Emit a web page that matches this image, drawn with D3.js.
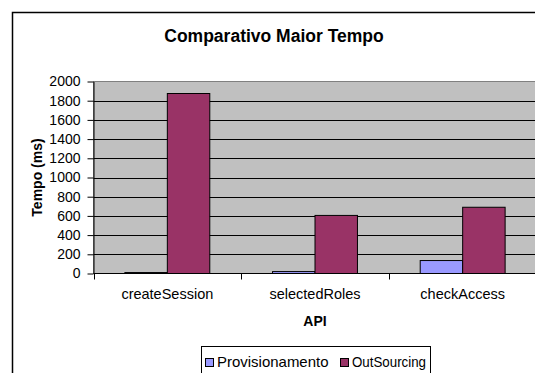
<!DOCTYPE html>
<html>
<head>
<meta charset="utf-8">
<script src="https://cdn.jsdelivr.net/npm/d3@7"></script>
<style>
  html, body { margin: 0; padding: 0; background: #fff; }
  svg { display: block; font-family: "Liberation Sans", Arial, sans-serif; }
</style>
</head>
<body>
<svg id="chart" width="535" height="373"></svg>
<script>
// Chart data
const categories = ["createSession", "selectedRoles", "checkAccess"];
const seriesNames = ["Provisionamento", "OutSourcing"];
const provisionamento = [10, 20, 135];
const outSourcing = [1875, 605, 690];
const yTicks = [0, 200, 400, 600, 800, 1000, 1200, 1400, 1600, 1800, 2000];
const colors = ["#9999ff", "#993366"];

const seriesValues = [provisionamento, outSourcing];

const svg = d3.select("#chart");

// Outer chart frame (extends past the visible window on the right and bottom)
svg.append("rect")
  .attr("x", 12.5).attr("y", 12.5)
  .attr("width", 560).attr("height", 420)
  .attr("fill", "#fff").attr("stroke", "#000").attr("stroke-width", 1.5);

const plot = { left: 93.5, right: 536.5, top: 81.5, bottom: 273.5 };

const y = d3.scaleLinear().domain([0, 2000]).range([plot.bottom, plot.top]);
const x0 = d3.scaleBand().domain(categories).range([plot.left, plot.right]).padding(0);
const bw = x0.bandwidth();
const x1 = d3.scaleBand().domain(seriesNames).range([bw * 0.2125, bw * 0.7875]).padding(0);

// Plot area background
svg.append("rect")
  .attr("x", plot.left).attr("y", plot.top)
  .attr("width", plot.right - plot.left).attr("height", plot.bottom - plot.top)
  .attr("fill", "#c0c0c0").attr("stroke", "#808080").attr("stroke-width", 1);

// Horizontal gridlines
svg.append("g")
  .selectAll("line")
  .data(yTicks.filter(t => t > 0 && t < 2000))
  .join("line")
  .attr("x1", plot.left).attr("x2", plot.right)
  .attr("y1", d => Math.round(y(d)) + 0.5).attr("y2", d => Math.round(y(d)) + 0.5)
  .attr("stroke", "#000").attr("stroke-width", 1);

// Bars
const groups = svg.append("g")
  .selectAll("g")
  .data(categories)
  .join("g")
  .attr("transform", d => `translate(${x0(d)},0)`);

groups.selectAll("rect")
  .data((d, i) => seriesNames.map((s, j) => ({ s, v: seriesValues[j][i], j })))
  .join("rect")
  .attr("x", d => x1(d.s))
  .attr("width", x1.bandwidth())
  .attr("y", d => y(d.v))
  .attr("height", d => y(0) - y(d.v))
  .attr("fill", d => colors[d.j])
  .attr("stroke", "#000").attr("stroke-width", 1);

// Y axis
const yAxis = svg.append("g")
  .attr("transform", `translate(${plot.left},0)`)
  .call(d3.axisLeft(y).tickValues(yTicks).tickFormat(d3.format("d"))
    .tickSize(6).tickPadding(7).tickSizeOuter(0));
yAxis.select(".domain").attr("stroke", "#000");
yAxis.selectAll("text").attr("font-size", 14).attr("fill", "#000")
  .attr("font-family", "Liberation Sans, Arial, sans-serif");

// X axis with ticks at category boundaries
const xAxis = svg.append("g")
  .attr("transform", `translate(0,${plot.bottom})`);
xAxis.append("line")
  .attr("x1", plot.left).attr("x2", plot.right)
  .attr("y1", 0).attr("y2", 0).attr("stroke", "#000");
xAxis.selectAll("line.tick")
  .data(categories)
  .join("line")
  .attr("class", "tick")
  .attr("x1", d => Math.round(x0(d)) + 0.5).attr("x2", d => Math.round(x0(d)) + 0.5)
  .attr("y1", 0).attr("y2", 6).attr("stroke", "#000");
xAxis.selectAll("text")
  .data(categories)
  .join("text")
  .attr("x", d => x0(d) + bw / 2)
  .attr("y", 25)
  .attr("text-anchor", "middle")
  .attr("font-size", 14.5)
  .text(d => d);

// Title
svg.append("text")
  .attr("x", 274).attr("y", 42)
  .attr("text-anchor", "middle")
  .attr("font-size", 17.5).attr("font-weight", "bold")
  .text("Comparativo Maior Tempo");

// Axis titles
svg.append("text")
  .attr("transform", `translate(42,${(plot.top + plot.bottom) / 2}) rotate(-90)`)
  .attr("text-anchor", "middle")
  .attr("font-size", 14).attr("font-weight", "bold")
  .text("Tempo (ms)");

svg.append("text")
  .attr("x", (plot.left + plot.right) / 2).attr("y", 326)
  .attr("text-anchor", "middle")
  .attr("font-size", 14).attr("font-weight", "bold")
  .text("API");

// Legend
const legend = svg.append("g");
legend.append("rect")
  .attr("x", 201.5).attr("y", 346.5)
  .attr("width", 229).attr("height", 40)
  .attr("fill", "#fff").attr("stroke", "#000");
const legendX = [205, 340];
const legendTextLen = [111.5, 74];
seriesNames.forEach((s, i) => {
  legend.append("rect")
    .attr("x", legendX[i] + 0.5).attr("y", 358.5)
    .attr("width", 8).attr("height", 8)
    .attr("fill", colors[i]).attr("stroke", "#000");
  legend.append("text")
    .attr("x", legendX[i] + 12).attr("y", 366.5)
    .attr("font-size", 14.5)
    .attr("textLength", legendTextLen[i])
    .attr("lengthAdjust", "spacingAndGlyphs")
    .text(s);
});
</script>
</body>
</html>
